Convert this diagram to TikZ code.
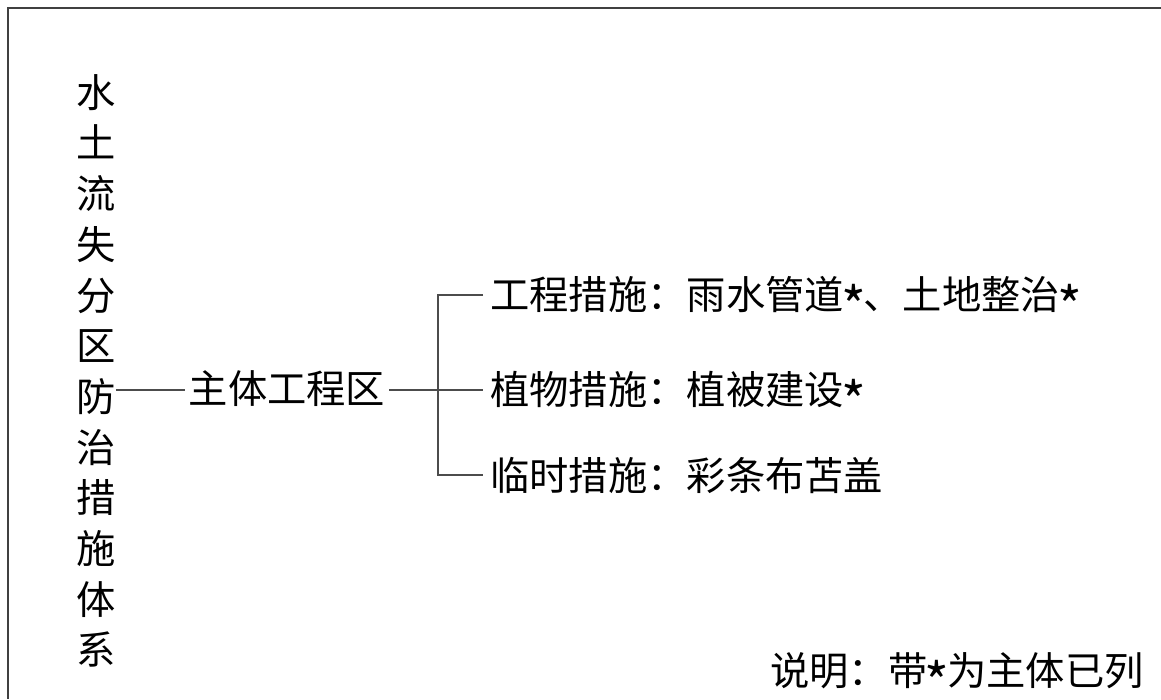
\documentclass[tikz,border=0pt]{standalone}
\usepackage{fontspec}
\usepackage{graphicx}
\newfontfamily\cjk{Noto Sans CJK SC}
\newcommand{\fwc}{\makebox[1em][c]{：}}
\newcommand{\myast}{\makebox[0.5em][c]{\raisebox{-0.42em}[0pt][0pt]{\scalebox{1.35}{*}}}}
\begin{document}
\begin{tikzpicture}[x=1pt,y=-1pt,
  every node/.style={font=\cjk\fontsize{39.3}{50.7}\selectfont, inner sep=0pt, text=black},
  conn/.style={draw=black!70, line width=1.1pt},
  frameline/.style={draw=black!75, line width=1.4pt},
  leaf/.style={anchor=west, inner xsep=7pt, inner ysep=2pt},
  mainbox/.style={inner xsep=4pt, inner ysep=2pt}]
\useasboundingbox (0,0) rectangle (1161,699);
\coordinate (fTL) at (8,8);
\coordinate (fTR) at (1161,8);
\coordinate (fBL) at (8,699);
\draw[frameline] (fTR) -- (fTL) -- (fBL);

\node[align=center] (title) at (96,371) {水\\土\\流\\失\\分\\区\\防\\治\\措\\施\\体\\系};
\node[mainbox] (main) at (287,389) {主体工程区};
\coordinate (br) at (438,390);
\node[leaf] (l1) at (483,295) {工程措施\fwc 雨水管道\myast 、土地整治\myast};
\node[leaf] (l2) at (483,390) {植物措施\fwc 植被建设\myast};
\node[leaf] (l3) at (483,475) {临时措施\fwc 彩条布苫盖};
\node (note) at (957,671) {说明\fwc 带\myast 为主体已列};

\draw[conn] (title.east |- br) -- (main.west |- br);
\draw[conn] (main.east |- br) -- (br);
\draw[conn] (l1.west) -| (br) |- (l3.west);
\draw[conn] (br) -- (l2.west);
\end{tikzpicture}
\end{document}
